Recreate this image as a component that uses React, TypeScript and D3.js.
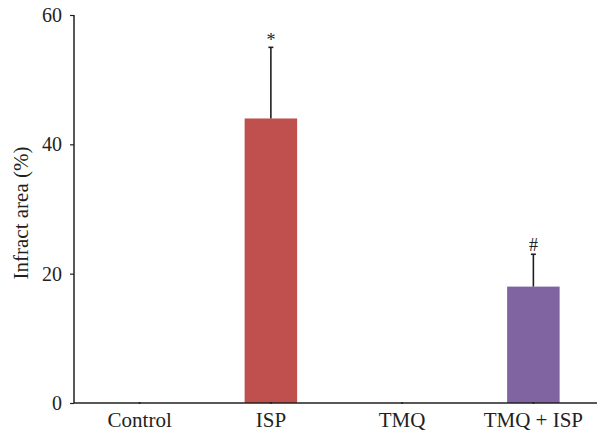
import React from "react";
import * as d3 from "d3";

const categories = ["Control", "ISP", "TMQ", "TMQ + ISP"];
const values = [0, 44, 0, 18];
const errors = [0, 11, 0, 5];
const marks = ["", "*", "", "#"];
const barColors = ["#c0504d", "#c0504d", "#8064a2", "#8064a2"];
const yTicks = [0, 20, 40, 60];

export default function App() {
  const svgRef = React.useRef<SVGSVGElement>(null);
  const width = 597;
  const height = 433;
  const left = 74;
  const top = 15;
  const bottom = 403;

  React.useEffect(() => {
    const svg = d3.select(svgRef.current);
    svg.selectAll("*").remove();

    const x = d3.scaleBand().domain(categories).range([left, 599]).padding(0);
    const y = d3.scaleLinear().domain([0, 60]).range([bottom, top]);
    const barW = x.bandwidth() * 0.4;
    const font = "'Liberation Serif', 'DejaVu Serif', serif";
    const ink = "#231f20";

    // bars
    svg.selectAll("rect.bar")
      .data(values)
      .enter()
      .append("rect")
      .attr("class", "bar")
      .attr("x", (d, i) => x(categories[i])! + x.bandwidth() / 2 - barW / 2)
      .attr("y", (d) => y(d))
      .attr("width", barW)
      .attr("height", (d) => bottom - y(d))
      .attr("fill", (d, i) => barColors[i]);

    // error bars, upper half only
    values.forEach((v, i) => {
      if (!errors[i]) return;
      const cx = x(categories[i])! + x.bandwidth() / 2;
      const yTop = y(v + errors[i]);
      svg.append("line")
        .attr("x1", cx).attr("x2", cx)
        .attr("y1", y(v)).attr("y2", yTop)
        .attr("stroke", ink).attr("stroke-width", 1.6);
      svg.append("line")
        .attr("x1", cx - 2.5).attr("x2", cx + 2.5)
        .attr("y1", yTop).attr("y2", yTop)
        .attr("stroke", ink).attr("stroke-width", 1.6);
      svg.append("text")
        .attr("x", cx)
        .attr("y", yTop - (marks[i] === "#" ? 3.5 : 1))
        .attr("text-anchor", "middle")
        .attr("font-family", font)
        .attr("font-size", 18)
        .attr("fill", ink)
        .text(marks[i]);
    });

    // y axis
    const yAxis = d3.axisLeft(y).tickValues(yTicks).tickSize(4).tickPadding(8);
    const yg = svg.append("g").attr("transform", `translate(${left},0)`).call(yAxis);
    yg.attr("font-size", null).attr("font-family", null);
    yg.select(".domain").attr("stroke", ink).attr("stroke-width", 1.5)
      .attr("d", `M0,${top}V${bottom}`);
    yg.selectAll("line").attr("stroke", ink).attr("stroke-width", 1.2);
    yg.selectAll("text")
      .style("font-family", font)
      .style("font-size", "20px")
      .attr("fill", ink);

    // x axis
    const xAxis = d3.axisBottom(x).tickSize(2);
    const xg = svg.append("g").attr("transform", `translate(0,${bottom})`).call(xAxis);
    xg.attr("font-size", null).attr("font-family", null);
    xg.select(".domain").attr("stroke", ink).attr("stroke-width", 1.5)
      .attr("d", `M${left},0H599`);
    xg.selectAll("line").attr("stroke", ink).attr("stroke-width", 1.5).attr("y1", -1).attr("y2", 1);
    xg.selectAll("text")
      .attr("y", 24)
      .attr("dy", null)
      .style("font-family", font)
      .style("font-size", "21px")
      .attr("fill", ink);

    svg.append("text")
      .attr("transform", `translate(28,${213}) rotate(-90)`)
      .attr("text-anchor", "middle")
      .style("font-family", font)
      .style("font-size", "21px")
      .attr("fill", ink)
      .text("Infract area (%)");
  }, []);

  return (
    <svg
      ref={svgRef}
      width={width}
      height={height}
      style={{ position: "absolute", left: 0, top: 0, background: "#fff" }}
    />
  );
}
